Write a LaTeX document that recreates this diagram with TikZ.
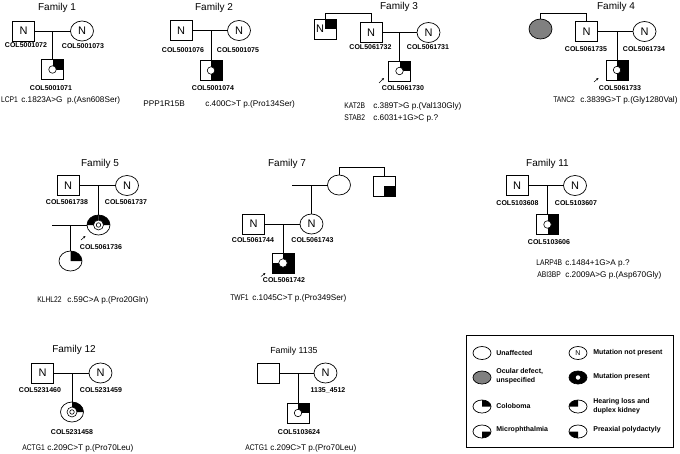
\documentclass[tikz,border=0pt]{standalone}
\usepackage{graphicx}
\usepackage{fontspec}
\setmainfont{Liberation Sans}
\setsansfont{Liberation Sans}
\usetikzlibrary{shapes.geometric,arrows.meta}
\newcommand\qc[4]{\fill (#1.center) -- ([shift={(#2:#3 and #4)}]#1.center) arc[start angle=#2, delta angle=90, x radius=#3, y radius=#4] -- cycle;}
\newcommand\qs[2]{\fill (#1.center) rectangle (#1.#2);}
\newcommand\gn[1]{\scalebox{0.82}[1]{#1}}
\begin{document}
\begin{tikzpicture}[x=1pt,y=1pt,line width=0.7pt,
  title/.style={font=\fontsize{10}{12}\selectfont, anchor=base, inner sep=0},
  lab/.style={font=\fontsize{7}{8}\selectfont\bfseries, inner sep=0},
  var/.style={font=\fontsize{8.2}{10}\selectfont, anchor=base west, inner sep=0},
  sq/.style={draw, rectangle, minimum width=22pt, minimum height=20pt, inner sep=0, outer sep=0, font=\fontsize{11}{12}\selectfont},
  ci/.style={draw, ellipse, minimum width=23pt, minimum height=20pt, inner sep=0, outer sep=0, font=\fontsize{11}{12}\selectfont},
  ntext/.style={font=\fontsize{11}{12}\selectfont, inner sep=0},
  mk/.style={draw, circle, fill=white, minimum size=7.5pt, inner sep=0, line width=0.6pt},
  prob/.style={-{Stealth[length=2.5pt,width=2.2pt]}, line width=0.5pt},
  lsym/.style={draw, ellipse, minimum width=18pt, minimum height=13pt, inner sep=0, outer sep=0, font=\fontsize{7}{8}\selectfont},
  ltext/.style={font=\fontsize{7}{9}\selectfont\bfseries, anchor=west, inner sep=0, align=left}]
\useasboundingbox (0,0) rectangle (680,-453);

% ---------- Family 1
\node[title] (T1) at (57,-10.5) {Family 1};
\node[sq] (F1a) at (23.5,-31) {N};
\node[ci] (F1b) at (82,-31) {N};
\node[sq] (F1c) at (52.5,-69.5) {};
\qs{F1c}{north east}
\node[mk] (F1cm) at (F1c) {};
\draw (F1a) -- (F1b);
\draw (F1a -| F1c) -- (F1c);
\node[lab] (L1a) at (26,-45.5) {COL5001072};
\node[lab] (L1b) at (83,-46) {COL5001073};
\node[lab] (L1c) at (51,-88) {COL5001071};
\node[var] (G1) at (0.8,-102) {\gn{LCP1}};
\node[var] (V1) at (21,-102) {c.1823A>G\ \ p.(Asn608Ser)};

% ---------- Family 2
\node[title] (T2) at (214,-10.5) {Family 2};
\node[sq] (F2a) at (181,-30.5) {N};
\node[ci] (F2b) at (239,-30.5) {N};
\node[sq] (F2c) at (211,-70.5) {};
\qs{F2c}{north east}\qs{F2c}{south east}
\node[mk] (F2cm) at (F2c) {};
\draw (F2a) -- (F2b);
\draw (F2a -| F2c) -- (F2c);
\node[lab] (L2a) at (183,-50.5) {COL5001076};
\node[lab] (L2b) at (238,-50.5) {COL5001075};
\node[lab] (L2c) at (213,-88.5) {COL5001074};
\node[var] (G2) at (143,-106) {PPP1R15B};
\node[var] (V2) at (205,-106) {c.400C>T p.(Pro134Ser)};

% ---------- Family 3
\node[title] (T3) at (399,-9.5) {Family 3};
\node[sq] (F3s) at (325,-29) {};
\qs{F3s}{north east}
\node[ntext] (F3sN) at ([xshift=-5pt]F3s.center) {N};
\node[sq] (F3f) at (371,-32.5) {N};
\node[ci] (F3m) at (428.5,-32.5) {N};
\node[sq] (F3c) at (399.5,-71) {};
\qs{F3c}{north east}
\node[mk] (F3cm) at (F3c) {};
\coordinate (F3bar) at (371,-13);
\draw (F3s.north) |- (F3bar) -- (F3f.north);
\draw (F3f) -- (F3m);
\draw (F3f -| F3c) -- (F3c);
\node[lab] (L3a) at (370.5,-47.5) {COL5061732};
\node[lab] (L3b) at (428,-47.5) {COL5061731};
\node[lab] (L3c) at (403,-88.5) {COL5061730};
\coordinate (P3a) at (379,-83);
\coordinate (P3b) at (384,-78);
\draw[prob] (P3a) -- (P3b);
\node[var] (G3a) at (344,-108) {\gn{KAT2B}};
\node[var] (V3a) at (373,-108) {c.389T>G p.(Val130Gly)};
\node[var] (G3b) at (344,-120.5) {\gn{STAB2}};
\node[var] (V3b) at (373,-120.5) {c.6031+1G>C p.?};

% ---------- Family 4
\node[title] (T4) at (616,-9.5) {Family 4};
\node[ci, fill=black!50] (F4s) at (540.5,-29) {};
\node[sq] (F4f) at (586.5,-31.5) {N};
\node[ci] (F4m) at (644.5,-31.5) {N};
\node[sq] (F4c) at (617,-70) {};
\qs{F4c}{north east}\qs{F4c}{south east}
\node[mk] (F4cm) at (F4c) {};
\coordinate (F4bar) at (586.5,-13);
\draw (F4s.north) |- (F4bar) -- (F4f.north);
\draw (F4f) -- (F4m);
\draw (F4f -| F4c) -- (F4c);
\node[lab] (L4a) at (586,-49) {COL5061735};
\node[lab] (L4b) at (644,-49) {COL5061734};
\node[lab] (L4c) at (620,-88.5) {COL5061733};
\coordinate (P4a) at (594,-82);
\coordinate (P4b) at (598.5,-78);
\draw[prob] (P4a) -- (P4b);
\node[var] (G4) at (553,-102) {\gn{TANC2}};
\node[var] (V4) at (580,-102) {c.3839G>T p.(Gly1280Val)};

% ---------- Family 5
\node[title] (T5) at (100,-166) {Family 5};
\node[sq] (F5a) at (68,-185.5) {N};
\node[ci] (F5b) at (127,-185.5) {N};
\node[ci] (F5c) at (98.5,-225) {};
\qc{F5c}{0}{11.5pt}{10pt}\qc{F5c}{90}{11.5pt}{10pt}
\node[mk, minimum size=10pt] (F5cm) at (F5c) {};
\node[mk, minimum size=4.5pt] (F5cm2) at (F5c) {};
\node[ci] (F5d) at (70.5,-261) {};
\qc{F5d}{0}{11.5pt}{10pt}
\coordinate (F5sp) at (52,-225);
\draw (F5a) -- (F5b);
\draw (F5a -| F5c) -- (F5c);
\draw (F5sp) -- (F5c);
\draw (F5sp -| F5d) -- (F5d);
\node[lab] (L5a) at (67,-202.5) {COL5061738};
\node[lab] (L5b) at (126,-202.5) {COL5061737};
\node[lab] (L5c) at (101,-247.5) {COL5061736};
\coordinate (P5a) at (81,-240);
\coordinate (P5b) at (85.5,-236);
\draw[prob] (P5a) -- (P5b);
\node[var] (G5) at (37,-302) {\gn{KLHL22}};
\node[var] (V5) at (67,-302) {c.59C>A p.(Pro20Gln)};

% ---------- Family 7
\node[title] (T7) at (287,-166) {Family 7};
\node[ci] (F7t) at (339,-185) {};
\node[sq] (F7u) at (384,-186) {};
\qs{F7u}{south east}
\coordinate (F7bar) at (384,-167);
\draw (F7t.north) |- (F7bar) -- (F7u.north);
\coordinate (F7sp) at (292,-185);
\draw (F7sp) -- (F7t);
\node[sq] (F7a) at (253.5,-224) {N};
\node[ci] (F7m) at (311.5,-224) {N};
\draw (F7sp -| F7m) -- (F7m);
\draw (F7a) -- (F7m);
\node[sq] (F7c) at (283,-263) {};
\qs{F7c}{north east}\qs{F7c}{south east}\qs{F7c}{south west}
\node[mk, minimum size=8.5pt] (F7cm) at (F7c) {};
\draw (F7a -| F7c) -- (F7c);
\node[lab] (L7a) at (253,-240) {COL5061744};
\node[lab] (L7b) at (312.5,-240) {COL5061743};
\node[lab] (L7c) at (284,-280.5) {COL5061742};
\coordinate (P7a) at (261,-276.5);
\coordinate (P7b) at (265.5,-273);
\draw[prob] (P7a) -- (P7b);
\node[var] (G7) at (230,-300) {\gn{TWF1}};
\node[var] (V7) at (252,-300) {c.1045C>T p.(Pro349Ser)};

% ---------- Family 11
\node[title] (T11) at (547.5,-166) {Family 11};
\node[sq] (F11a) at (517,-185.5) {N};
\node[ci] (F11b) at (575,-185.5) {N};
\node[sq] (F11c) at (547.5,-224.5) {};
\qs{F11c}{north east}\qs{F11c}{south east}
\node[mk] (F11cm) at (F11c) {};
\draw (F11a) -- (F11b);
\draw (F11a -| F11c) -- (F11c);
\node[lab] (L11a) at (517.5,-203) {COL5103608};
\node[lab] (L11b) at (576,-203) {COL5103607};
\node[lab] (L11c) at (549,-242) {COL5103606};
\node[var] (G11a) at (536,-265) {\gn{LARP4B}};
\node[var] (V11a) at (565,-265) {c.1484+1G>A p.?};
\node[var] (G11b) at (537,-277) {\gn{ABI3BP}};
\node[var] (V11b) at (565,-277) {c.2009A>G p.(Asp670Gly)};

% ---------- Family 12
\node[title] (T12) at (74,-352) {Family 12};
\node[sq] (F12a) at (42.5,-373) {N};
\node[ci] (F12b) at (100.5,-373) {N};
\node[ci] (F12c) at (72,-412) {};
\qc{F12c}{0}{11.5pt}{10pt}
\node[mk, minimum size=10pt] (F12cm) at (F12c) {};
\node[mk, minimum size=4.5pt] (F12cm2) at (F12c) {};
\draw (F12a) -- (F12b);
\draw (F12a -| F12c) -- (F12c);
\node[lab] (L12a) at (40,-390.5) {COL5231460};
\node[lab] (L12b) at (101,-390.5) {COL5231459};
\node[lab] (L12c) at (72,-432.5) {COL5231458};
\node[var] (G12) at (22,-450) {\gn{ACTG1}};
\node[var] (V12) at (47,-450) {c.209C>T p.(Pro70Leu)};

% ---------- Family 1135
\node[title, font=\fontsize{8.8}{11}\selectfont] (T13) at (294,-353) {Family 1135};
\node[sq] (F13a) at (268,-373) {};
\node[ci] (F13b) at (325.5,-373) {N};
\node[sq] (F13c) at (298,-413) {};
\qs{F13c}{north east}
\node[mk] (F13cm) at (F13c) {};
\draw (F13a) -- (F13b);
\draw (F13a -| F13c) -- (F13c);
\node[lab] (L13b) at (328,-390) {1135\_4512};
\node[lab] (L13c) at (299,-432.5) {COL5103624};
\node[var] (G13) at (245,-450) {\gn{ACTG1}};
\node[var] (V13) at (270,-450) {c.209C>T p.(Pro70Leu)};

% ---------- Legend
\node[draw, line width=0.8pt, minimum width=207pt, minimum height=112pt, inner sep=0] (LG) at (569.5,-391) {};
\node[lsym] (LS1) at (482,-353) {};
\node[lsym, fill=black!50] (LS2) at (482,-377.5) {};
\node[lsym] (LS3) at (482,-406.5) {};
\qc{LS3}{0}{9pt}{6.5pt}
\node[lsym] (LS4) at (482,-431.5) {};
\qc{LS4}{270}{9pt}{6.5pt}
\node[lsym] (RS1) at (578,-353) {N};
\node[lsym, fill=black] (RS2) at (578,-377.5) {};
\node[circle, fill=white, minimum size=4.5pt, inner sep=0] (RS2d) at (RS2) {};
\node[lsym] (RS3) at (578,-406.5) {};
\qc{RS3}{90}{9pt}{6.5pt}
\node[lsym] (RS4) at (578,-431.5) {};
\qc{RS4}{180}{9pt}{6.5pt}
\node[ltext] (LT1) at (496,-352.5) {Unaffected};
\node[ltext] (LT2) at (496,-376) {Ocular defect,\\unspecified};
\node[ltext] (LT3) at (496,-406) {Coloboma};
\node[ltext] (LT4) at (496,-430) {Microphthalmia};
\node[ltext] (RT1) at (593,-352.5) {Mutation not present};
\node[ltext] (RT2) at (593,-377) {Mutation present};
\node[ltext] (RT3) at (593,-406.5) {Hearing loss and\\duplex kidney};
\node[ltext] (RT4) at (593,-429.5) {Preaxial polydactyly};
\end{tikzpicture}
\end{document}
